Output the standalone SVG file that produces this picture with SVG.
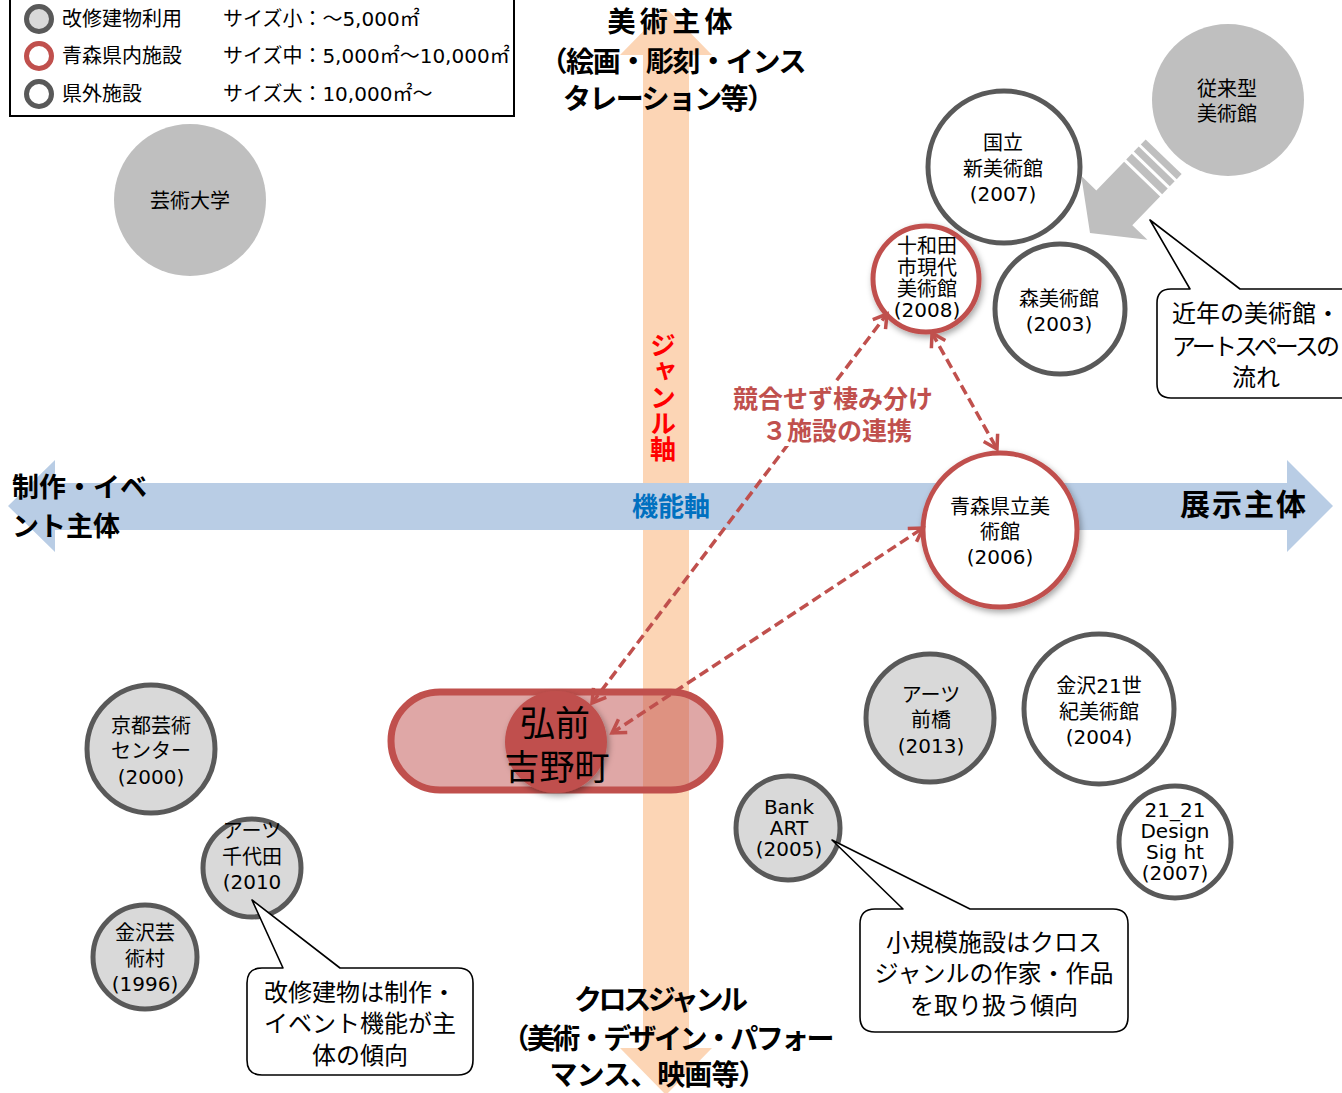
<svg xmlns="http://www.w3.org/2000/svg" width="1342" height="1093" viewBox="0 0 1342 1093">
<defs>
<style>
.nt{font-family:'DejaVu Sans','Noto Sans CJK JP',sans-serif;font-size:20px;fill:#000;text-anchor:middle}
.hd{font-family:'Noto Sans CJK JP',sans-serif;font-weight:700;font-size:28px;fill:#000;text-anchor:middle}
.lg{font-family:'DejaVu Sans','Noto Sans CJK JP',sans-serif;font-size:20px;fill:#000}
.co{font-family:'Noto Sans CJK JP',sans-serif;font-size:24px;fill:#000;text-anchor:middle}
.gc{fill:#D9D9D9;stroke:#595959;stroke-width:5}
.wc{fill:#fff;stroke:#595959;stroke-width:5}
.rc{fill:#fff;stroke:#C0504D;stroke-width:5}
.bc{fill:#BFBFBF}
.call{fill:#fff;stroke:#000;stroke-width:1.6;stroke-linejoin:round}
.dl{fill:none;stroke:#C0504D;stroke-width:3.5;stroke-dasharray:10 5;marker-start:url(#ah);marker-end:url(#ah)}
.rl{font-family:'Noto Sans CJK JP',sans-serif;font-weight:700;font-size:25px;fill:#C0504D;text-anchor:middle}
.ja{font-family:'Noto Sans CJK JP',sans-serif;font-weight:700;font-size:26px;fill:#FF0000;writing-mode:vertical-rl;text-orientation:upright}
.hs{font-family:'Noto Sans CJK JP',sans-serif;font-size:35px;fill:#000;text-anchor:middle}
</style>
<marker id="ah" viewBox="-16 -10 20 20" refX="0" refY="0" markerWidth="20" markerHeight="20" markerUnits="userSpaceOnUse" orient="auto-start-reverse" overflow="visible">
<path d="M-13,-8 L0,0 L-13,8" fill="none" stroke="#C0504D" stroke-width="3.5"/>
</marker>
<filter id="sh" x="-30%" y="-30%" width="170%" height="170%">
<feDropShadow dx="2" dy="3" stdDeviation="3" flood-color="#000" flood-opacity="0.35"/>
</filter>
</defs>
<rect width="1342" height="1093" fill="#fff"/>

<g id="axes">
<polygon points="666,8 712,55 689,55 689,1048 712,1048 666,1095 620,1048 643,1048 643,55 620,55" fill="#FCD5B5"/>
<polygon points="8,506 55,460 55,483 1287,483 1287,460 1333,506 1287,552 1287,530 55,530 55,552" fill="#B9CDE5"/>
</g>

<g id="legend">
<rect x="10" y="-5" width="504" height="121" fill="#fff" stroke="#000" stroke-width="2"/>
<circle cx="39" cy="19" r="12.5" class="gc" stroke-width="4"/>
<circle cx="39" cy="56" r="12.5" class="rc" stroke-width="4"/>
<circle cx="39" cy="94" r="12.5" class="wc" stroke-width="4"/>
<text x="62" y="26" class="lg">改修建物利用</text>
<text x="62" y="63" class="lg">青森県内施設</text>
<text x="62" y="101" class="lg">県外施設</text>
<text x="223" y="26" class="lg">サイズ小：～5,000㎡</text>
<text x="223" y="63" class="lg">サイズ中：5,000㎡～10,000㎡</text>
<text x="223" y="101" class="lg">サイズ大：10,000㎡～</text>
</g>

<g id="geijutsu-daigaku">
<circle cx="190" cy="200" r="76" class="bc"/>
<text x="190" y="208" class="nt">芸術大学</text>
</g>

<g id="juuraigata">
<circle cx="1228" cy="100" r="76" class="bc"/>
<text class="nt"><tspan x="1227" y="96">従来型</tspan><tspan x="1227" y="121">美術館</tspan></text>
</g>

<g id="flow-arrow" transform="translate(1090,233) rotate(-46)" fill="#BFBFBF">
<polygon points="0,0 35,-46 35,-25 75,-25 75,25 35,25 35,46"/>
<rect x="78" y="-25" width="8" height="50"/>
<rect x="89" y="-25" width="7" height="50"/>
<rect x="99" y="-25" width="7" height="50"/>
</g>

<g id="kokuritsu">
<circle cx="1004" cy="167" r="76" class="wc"/>
<text class="nt"><tspan x="1003" y="150">国立</tspan><tspan x="1003" y="176">新美術館</tspan><tspan x="1003" y="201">(2007)</tspan></text>
</g>

<g id="mori">
<circle cx="1060" cy="309" r="65" class="wc"/>
<text class="nt"><tspan x="1059" y="306">森美術館</tspan><tspan x="1059" y="331">(2003)</tspan></text>
</g>

<g id="towada">
<circle cx="926" cy="279" r="53" class="rc" filter="url(#sh)"/>
<text class="nt"><tspan x="927" y="253">十和田</tspan><tspan x="927" y="275">市現代</tspan><tspan x="927" y="296">美術館</tspan><tspan x="927" y="317">(2008)</tspan></text>
</g>

<g id="aomori-kenritsu">
<circle cx="1000" cy="530" r="77" class="rc" filter="url(#sh)"/>
<text class="nt"><tspan x="1000" y="514">青森県立美</tspan><tspan x="1000" y="539">術館</tspan><tspan x="1000" y="564">(2006)</tspan></text>
</g>

<g id="kyoto">
<circle cx="151" cy="749" r="64" class="gc"/>
<text class="nt"><tspan x="151" y="733">京都芸術</tspan><tspan x="151" y="758">センター</tspan><tspan x="151" y="784">(2000)</tspan></text>
</g>

<g id="chiyoda">
<circle cx="252" cy="868" r="49" class="gc"/>
<text class="nt"><tspan x="252" y="838">アーツ</tspan><tspan x="252" y="864">千代田</tspan><tspan x="252" y="889">(2010</tspan></text>
</g>

<g id="kanazawa-geijutsumura">
<circle cx="145" cy="957" r="52" class="gc"/>
<text class="nt"><tspan x="145" y="940">金沢芸</tspan><tspan x="145" y="966">術村</tspan><tspan x="145" y="991">(1996)</tspan></text>
</g>

<g id="maebashi">
<circle cx="930" cy="718" r="64" class="gc"/>
<text class="nt"><tspan x="931" y="702">アーツ</tspan><tspan x="931" y="727">前橋</tspan><tspan x="931" y="753">(2013)</tspan></text>
</g>

<g id="kanazawa21">
<circle cx="1099" cy="709" r="75" class="wc"/>
<text class="nt"><tspan x="1099" y="693">金沢21世</tspan><tspan x="1099" y="719">紀美術館</tspan><tspan x="1099" y="744">(2004)</tspan></text>
</g>

<g id="bankart">
<circle cx="788" cy="828" r="52" class="gc"/>
<text class="nt"><tspan x="789" y="814">Bank</tspan><tspan x="789" y="835">ART</tspan><tspan x="789" y="856">(2005)</tspan></text>
</g>

<g id="design-sight">
<circle cx="1175" cy="842" r="56" class="wc"/>
<text class="nt"><tspan x="1175" y="817">21_21</tspan><tspan x="1175" y="838">Design</tspan><tspan x="1175" y="859">Sig ht</tspan><tspan x="1175" y="880">(2007)</tspan></text>
</g>

<g id="hirosaki">
<rect x="391" y="692" width="329" height="98" rx="49" fill="#C0504D" fill-opacity="0.5" stroke="#C0504D" stroke-width="7"/>
<circle cx="556" cy="742" r="51" fill="#C0504D" filter="url(#sh)"/>
<text class="hs"><tspan x="555" y="736">弘前</tspan><tspan x="557" y="780">吉野町</tspan></text>
</g>

<g id="connectors">
<line x1="592" y1="703" x2="887" y2="314" class="dl"/>
<line x1="932" y1="333" x2="997" y2="449" class="dl"/>
<line x1="612" y1="733" x2="923" y2="528" class="dl"/>
</g>

<g id="relation-label">
<rect x="727" y="383" width="213" height="63" fill="#fff"/>
<text class="rl"><tspan x="833" y="408">競合せず棲み分け</tspan><tspan x="837" y="440">３施設の連携</tspan></text>
</g>

<g id="axis-labels">
<text x="670" y="32" class="hd" textLength="125" lengthAdjust="spacing">美術主体</text>
<text x="673" y="72" class="hd" textLength="267" lengthAdjust="spacing">（絵画・彫刻・インス</text>
<text x="669" y="109" class="hd" textLength="212" lengthAdjust="spacing">タレーション等）</text>
<text x="661" y="1010" class="hd" textLength="174" lengthAdjust="spacing">クロスジャンル</text>
<text x="668" y="1049" class="hd" textLength="333" lengthAdjust="spacing">（美術・デザイン・パフォー</text>
<text x="658" y="1085" class="hd" textLength="217" lengthAdjust="spacing">マンス、映画等）</text>
<text x="12" y="497" class="hd" style="text-anchor:start;font-size:27px">制作・イベ</text>
<text x="12" y="536" class="hd" style="text-anchor:start;font-size:27px">ント主体</text>
<text x="1243" y="515" class="hd" style="font-size:30px" textLength="126" lengthAdjust="spacing">展示主体</text>
<text x="671" y="516" class="hd" style="font-size:26px;fill:#0070C0">機能軸</text>
<text x="663" y="332" class="ja">ジャンル軸</text>
</g>

<g id="callout-trend">
<path class="call" d="M1171,289 H1190 L1150,220 L1240,289 H1342 Q1356,289 1356,303 V384 Q1356,398 1342,398 H1171 Q1157,398 1157,384 V303 Q1157,289 1171,289 Z"/>
<text x="1256" y="322" class="co">近年の美術館・</text>
<text x="1256" y="355" class="co" textLength="168" lengthAdjust="spacing">アートスペースの</text>
<text x="1256" y="386" class="co">流れ</text>
</g>

<g id="callout-small">
<path class="call" d="M875,909 H903 L832,840 L970,909 H1113 Q1128,909 1128,924 V1017 Q1128,1032 1113,1032 H875 Q860,1032 860,1017 V924 Q860,909 875,909 Z"/>
<text x="994" y="951" class="co">小規模施設はクロス</text>
<text x="994" y="982" class="co">ジャンルの作家・作品</text>
<text x="994" y="1014" class="co">を取り扱う傾向</text>
</g>

<g id="callout-renovation">
<path class="call" d="M262,968 H283 L252,900 L340,968 H458 Q473,968 473,983 V1060 Q473,1075 458,1075 H262 Q247,1075 247,1060 V983 Q247,968 262,968 Z"/>
<text x="360" y="1001" class="co">改修建物は制作・</text>
<text x="360" y="1032" class="co">イベント機能が主</text>
<text x="360" y="1064" class="co">体の傾向</text>
</g>
</svg>
